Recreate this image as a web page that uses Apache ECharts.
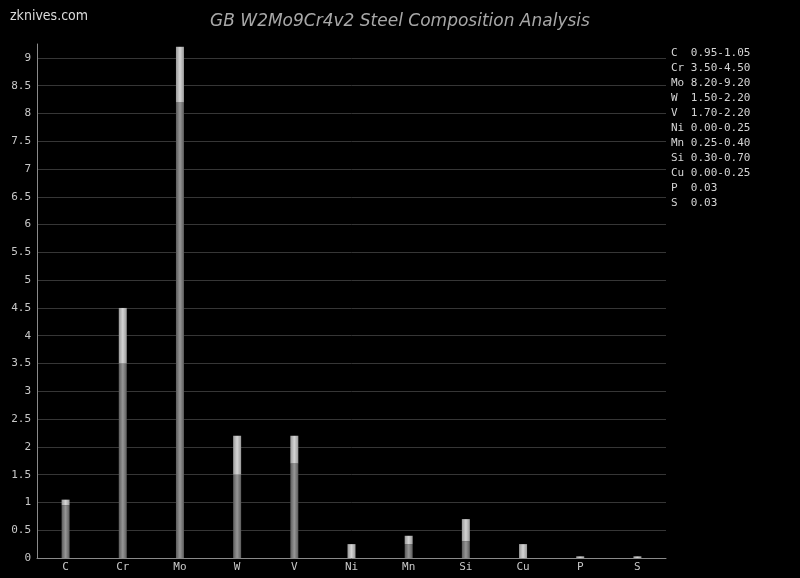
<!DOCTYPE html>
<html><head><meta charset="utf-8">
<script src="https://cdn.jsdelivr.net/npm/echarts@6/dist/echarts.min.js"></script>
<style>html,body{margin:0;padding:0;background:#000}#c{width:800px;height:578px}</style>
</head><body><div id="c"></div>
<script>
const elements = ['C','Cr','Mo','W','V','Ni','Mn','Si','Cu','P','S'];
const minValues = [0.95,3.50,8.20,1.50,1.70,0.00,0.25,0.30,0.00,0.00,0.00];
const maxValues = [1.05,4.50,9.20,2.20,2.20,0.25,0.40,0.70,0.25,0.03,0.03];
const rangeLabels = ['0.95-1.05','3.50-4.50','8.20-9.20','1.50-2.20','1.70-2.20','0.00-0.25','0.25-0.40','0.30-0.70','0.00-0.25','0.03','0.03'];

const mono = 'DejaVu Sans Mono';
const upper = maxValues.map((v,i)=> +(v - minValues[i]).toFixed(2));
const legendText = elements.map((e,i)=> e.padEnd(2,' ') + ' ' + rangeLabels[i]).join('\n');

function grad(a,b){
  return new echarts.graphic.LinearGradient(0,0,1,0,[
    {offset:0,color:a},{offset:0.5,color:b},{offset:1,color:a}]);
}

const chart = echarts.init(document.getElementById('c'));
chart.setOption({
  backgroundColor:'#000',
  animation:false,
  title:{
    text:'GB W2Mo9Cr4v2 Steel Composition Analysis',
    left:'center', top:8,
    textStyle:{color:'#a8a8a8',fontFamily:'DejaVu Sans',fontStyle:'italic',fontWeight:'normal',fontSize:17}
  },
  graphic:[
    {type:'text',left:10,top:9,style:{text:'zknives.com',fill:'#dcdcdc',font:'14px "DejaVu Sans Condensed", "DejaVu Sans"'}},
    {type:'text',left:671,top:46,style:{text:legendText,fill:'#d4d4d4',font:'11px "DejaVu Sans Mono"',lineHeight:15}}
  ],
  grid:{left:37,right:134,top:44,bottom:20,containLabel:false},
  xAxis:{
    type:'category',data:elements,
    axisLine:{lineStyle:{color:'#8a8a8a',width:1}},
    axisTick:{show:false},
    axisLabel:{color:'#c8c8c8',fontFamily:mono,fontSize:11,margin:4}
  },
  yAxis:{
    type:'value',min:0,max:9.25,interval:0.5,
    axisLine:{show:true,lineStyle:{color:'#8a8a8a',width:1}},
    axisTick:{show:false},
    axisLabel:{color:'#c8c8c8',fontFamily:mono,fontSize:11,margin:6,showMaxLabel:false},
    splitLine:{show:true,showMaxLine:false,lineStyle:{color:'#363636',width:1}}
  },
  series:[
    {type:'bar',stack:'s',data:minValues,barWidth:8,
      itemStyle:{color:grad('#5c5c5c','#969696')}},
    {type:'bar',stack:'s',data:upper,barWidth:8,
      itemStyle:{color:grad('#9a9a9a','#d4d4d4')}}
  ]
});
</script></body></html>
